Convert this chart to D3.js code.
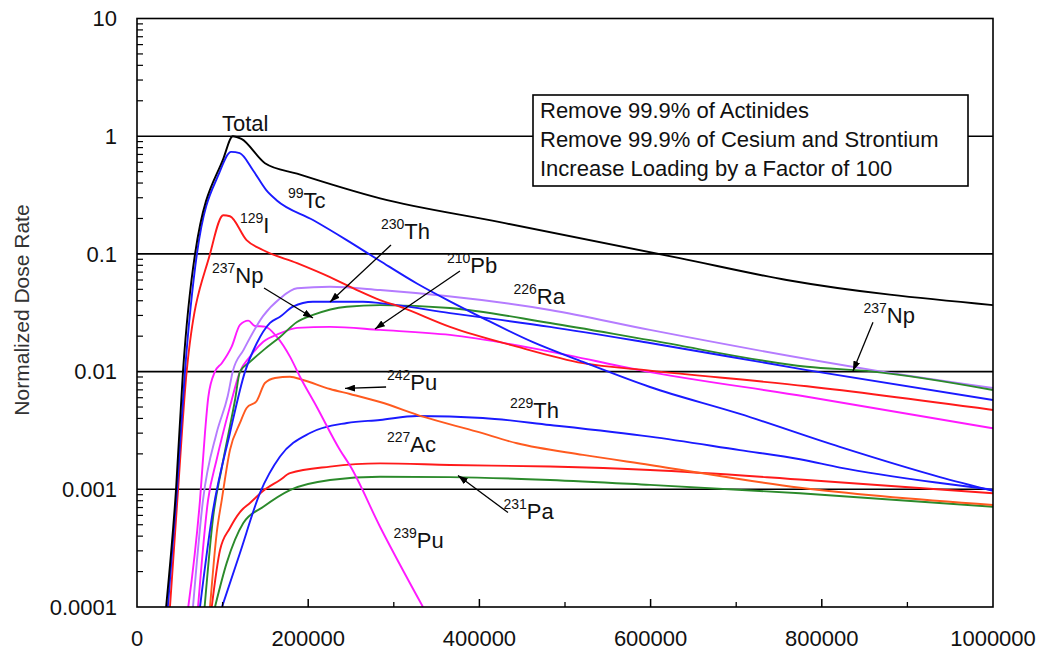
<!DOCTYPE html>
<html><head><meta charset="utf-8">
<script src="https://cdn.jsdelivr.net/npm/d3@7/dist/d3.min.js"></script>
<style>
body{margin:0;background:#fff}
text{font-family:"Liberation Sans",Arial,Helvetica,sans-serif}
</style>
</head><body>
<svg id="chart" width="1044" height="655"></svg>
<script>
// ---------- data ----------
const xTickValues = [0, 200000, 400000, 600000, 800000, 1000000];
const xTickLabels = ["0", "200000", "400000", "600000", "800000", "1000000"];
const yTickValues = [10, 1, 0.1, 0.01, 0.001, 0.0001];
const yTickLabels = ["10", "1", "0.1", "0.01", "0.001", "0.0001"];
const yAxisTitle = "Normalized Dose Rate";
const legendLines = ["Remove 99.9% of Actinides", "Remove 99.9% of Cesium and Strontium", "Increase Loading by a Factor of 100"];

const totalDose = [[34000,1e-4],[45600,1e-3],[53700,0.01],[67800,0.1],[101000,0.65],[112000,1.0],[122000,0.95],[149500,0.59],[187000,0.48],[284000,0.296],[424000,0.186],[634000,0.092],[759000,0.06],[1000000,0.0367]];
const tc99 = [[36000,1e-4],[46800,1e-3],[56000,0.01],[70000,0.1],[96000,0.485],[110000,0.736],[120000,0.717],[135500,0.514],[151000,0.348],[163000,0.286],[205600,0.194],[245000,0.131],[284000,0.087],[327000,0.056],[365600,0.0395],[404000,0.0285],[462600,0.0178],[521000,0.0121],[599300,0.0074],[704400,0.00437],[821000,0.00229],[938000,0.00127],[1000000,0.00097]];
const i129 = [[38500,1e-4],[48000,0.001],[58000,0.01],[85300,0.1],[100800,0.213],[108600,0.209],[128000,0.131],[147000,0.108],[187000,0.0835],[225500,0.0635],[257000,0.0493],[284000,0.0405],[307000,0.0356],[365600,0.024],[443900,0.0163],[521000,0.0118],[599300,0.0102],[782700,0.0075],[1000000,0.00472]];
const pb210 = [[71300,1e-4],[83000,0.00081],[93000,0.00178],[108600,0.00504],[120300,0.01],[132000,0.0134],[147500,0.0179],[167000,0.0211],[187000,0.0235],[225500,0.024],[284000,0.0226],[365600,0.0205],[482500,0.0148],[587000,0.0103],[782700,0.00612],[1000000,0.0033]];
const ra226 = [[65400,1e-4],[77100,0.00081],[93000,0.00301],[106000,0.0062],[112000,0.0101],[124500,0.0153],[147200,0.0296],[167000,0.0418],[187000,0.051],[225500,0.0526],[284000,0.0493],[482500,0.0334],[599300,0.0226],[859800,0.0103],[1000000,0.00726]];
const th230 = [[73600,1e-4],[87600,0.000586],[108600,0.00301],[126200,0.01],[139900,0.0174],[155400,0.0259],[167100,0.0292],[182200,0.0356],[205600,0.0392],[264000,0.0392],[283900,0.0382],[365600,0.0314],[482500,0.024],[599300,0.0175],[782700,0.0103],[1000000,0.00574]];
const np237 = [[79000,1e-4],[89000,0.000586],[99300,0.00156],[114500,0.00574],[120300,0.01],[132000,0.0121],[149500,0.0156],[167100,0.0197],[186900,0.0264],[205600,0.0303],[245000,0.0356],[284000,0.0367],[365600,0.0347],[482500,0.0259],[599300,0.0185],[782700,0.011],[859800,0.01],[1000000,0.00698]];
const th229 = [[99300,1e-4],[120300,0.000288],[143700,0.000933],[167100,0.0019],[202100,0.00301],[245300,0.00366],[283900,0.00388],[327000,0.0042],[404000,0.00404],[482500,0.00352],[599300,0.0028],[704400,0.00215],[774500,0.0018],[821200,0.00153],[938100,0.00113],[1000000,0.00099]];
const pu242 = [[85300,1e-4],[93100,0.000425],[99000,0.00081],[108600,0.00216],[120300,0.00366],[128100,0.00491],[139800,0.00563],[149500,0.008],[161200,0.00883],[178700,0.00905],[193900,0.00849],[225500,0.00711],[248800,0.00645],[283900,0.00552],[334100,0.00414],[397200,0.00309],[443900,0.00246],[521000,0.00196],[599300,0.00161],[774500,0.00103],[1000000,0.000736]];
const ac227 = [[87300,1e-4],[97000,0.000305],[108600,0.000469],[120300,0.000641],[132000,0.000765],[147200,0.000968],[167100,0.0012],[178700,0.00137],[225500,0.00156],[283900,0.00166],[365600,0.00161],[482500,0.00156],[599300,0.00146],[782700,0.0012],[1000000,0.000925]];
const pa231 = [[91100,1e-4],[104800,0.000237],[124200,0.000517],[147600,0.000711],[178700,0.000986],[225500,0.0012],[283900,0.00128],[365600,0.00127],[482500,0.0012],[599300,0.00109],[774500,0.000925],[1000000,0.000711]];
const pu239 = [[59900,1e-4],[73600,0.00081],[79400,0.00301],[83300,0.00608],[91100,0.00998],[99000,0.01177],[110600,0.0163],[120300,0.0249],[130000,0.0271],[137800,0.0244],[149500,0.0241],[163200,0.0198],[178700,0.0134],[190400,0.00905],[209900,0.00503],[237100,0.00216],[248800,0.00159],[283900,0.000481],[334100,1e-4]];

// series -> colour (styles kept apart from values)
const seriesList = [
  {data: pa231, color: "#2b8a2b"},
  {data: ac227, color: "#ff1a1a"},
  {data: th229, color: "#1a1aff"},
  {data: pu242, color: "#ff5a1f"},
  {data: pu239, color: "#ff1aff"},
  {data: pb210, color: "#ff1aff"},
  {data: ra226, color: "#b57cff"},
  {data: np237, color: "#2b8a2b"},
  {data: th230, color: "#1a1aff"},
  {data: i129, color: "#ff1a1a"},
  {data: tc99, color: "#1a1aff"},
  {data: totalDose, color: "#000000"}
];

// annotation labels: [superscript, symbol, x value, y value]
const labels = [
  ["", "Total", 99300, 1.107],
  ["99", "Tc", 176400, 0.245],
  ["129", "I", 120300, 0.151],
  ["237", "Np", 87600, 0.0566],
  ["230", "Th", 285000, 0.134],
  ["210", "Pb", 362100, 0.0688],
  ["226", "Ra", 439800, 0.0375],
  ["237", "Np", 848700, 0.0259],
  ["242", "Pu", 292000, 0.00698],
  ["229", "Th", 435700, 0.00404],
  ["227", "Ac", 292000, 0.00207],
  ["231", "Pa", 428100, 0.00056],
  ["239", "Pu", 299600, 0.000317]
];
// arrows: [from x, from y, to x, to y] in data units
const arrows = [
  [148400, 0.0513, 205600, 0.0285],
  [296700, 0.119, 225500, 0.039],
  [377300, 0.0716, 278000, 0.023],
  [859800, 0.0262, 836400, 0.0101],
  [291000, 0.0074, 243000, 0.00719],
  [433400, 0.000635, 375000, 0.00131]
];

// ---------- drawing ----------
const svg = d3.select("#chart");
const L = 137, R = 993, T = 18.5, B = 607;
const x = d3.scaleLinear().domain([0, 1000000]).range([L, R]);
const y = d3.scaleLog().domain([0.0001, 10]).range([B, T]);

// gridlines at major decades
svg.append("g").selectAll("line").data(yTickValues.filter(v => v < 10 && v > 0.0001)).join("line")
  .attr("x1", L).attr("x2", R).attr("y1", d => y(d)).attr("y2", d => y(d))
  .attr("stroke", "#000").attr("stroke-width", 1.6);

// curves
const line = d3.line().x(d => x(d[0])).y(d => y(d[1])).curve(d3.curveMonotoneX);
svg.append("defs").append("clipPath").attr("id", "clip").append("rect")
  .attr("x", L).attr("y", T).attr("width", R - L).attr("height", B - T);
svg.append("g").attr("clip-path", "url(#clip)").selectAll("path").data(seriesList).join("path")
  .attr("d", s => line(s.data)).attr("fill", "none")
  .attr("stroke", s => s.color).attr("stroke-width", 1.9).attr("stroke-linejoin", "round");

// frame
svg.append("rect").attr("x", L).attr("y", T).attr("width", R - L).attr("height", B - T)
  .attr("fill", "none").attr("stroke", "#000").attr("stroke-width", 1.6);

// y minor ticks
const minor = [];
for (let e = -4; e < 1; e++) for (let k = 2; k <= 9; k++) minor.push(k * Math.pow(10, e));
svg.append("g").selectAll("line").data(minor).join("line")
  .attr("x1", L).attr("x2", L + 6).attr("y1", d => y(d)).attr("y2", d => y(d))
  .attr("stroke", "#000").attr("stroke-width", 1.2);

// x ticks (major inward, minor halfway)
const xMajor = xTickValues.slice(1, -1);
const xMinor = [100000, 300000, 500000, 700000, 900000];
svg.append("g").selectAll("line").data(xMajor).join("line")
  .attr("x1", d => x(d)).attr("x2", d => x(d)).attr("y1", B).attr("y2", B - 8)
  .attr("stroke", "#000").attr("stroke-width", 1.5);
svg.append("g").selectAll("line").data(xMinor).join("line")
  .attr("x1", d => x(d)).attr("x2", d => x(d)).attr("y1", B).attr("y2", B - 5)
  .attr("stroke", "#000").attr("stroke-width", 1.3);

// tick labels
svg.append("g").selectAll("text").data(yTickValues).join("text")
  .attr("x", 117).attr("y", d => y(d)).attr("dy", "0.35em").attr("text-anchor", "end")
  .attr("font-size", 22).attr("fill", "#111").text((d, i) => yTickLabels[i]);
svg.append("g").selectAll("text").data(xTickValues).join("text")
  .attr("x", d => x(d)).attr("y", 646).attr("text-anchor", "middle")
  .attr("font-size", 22).attr("fill", "#111").text((d, i) => xTickLabels[i]);

// axis title
svg.append("text").attr("transform", "translate(22,310) rotate(-90)")
  .attr("text-anchor", "middle").attr("dy", "0.35em").attr("font-size", 21).attr("fill", "#333")
  .text(yAxisTitle);

// legend box
svg.append("rect").attr("x", 533).attr("y", 95).attr("width", 435).attr("height", 91)
  .attr("fill", "#fff").attr("stroke", "#000").attr("stroke-width", 1.6);
svg.append("g").selectAll("text").data(legendLines).join("text")
  .attr("x", 540).attr("y", (d, i) => 118 + i * 29).attr("font-size", 22).attr("fill", "#111").text(d => d);

// arrows
svg.select("defs").append("marker").attr("id", "ah").attr("viewBox", "0 0 10 7")
  .attr("refX", 10).attr("refY", 3.5).attr("markerWidth", 10).attr("markerHeight", 7)
  .attr("markerUnits", "userSpaceOnUse").attr("orient", "auto")
  .append("path").attr("d", "M0,0 L10,3.5 L0,7 Z").attr("fill", "#000");
svg.append("g").selectAll("line").data(arrows).join("line")
  .attr("x1", d => x(d[0])).attr("y1", d => y(d[1])).attr("x2", d => x(d[2])).attr("y2", d => y(d[3]))
  .attr("stroke", "#000").attr("stroke-width", 1.3).attr("marker-end", "url(#ah)");

// isotope labels
const lab = svg.append("g").selectAll("text").data(labels).join("text")
  .attr("x", d => x(d[2])).attr("y", d => y(d[3])).attr("fill", "#111");
lab.append("tspan").attr("font-size", 14).attr("dy", d => d[0] ? -10 : 0).text(d => d[0]);
lab.append("tspan").attr("font-size", 22).attr("dy", d => d[0] ? 10 : 0).text(d => d[1]);
</script>
</body></html>
